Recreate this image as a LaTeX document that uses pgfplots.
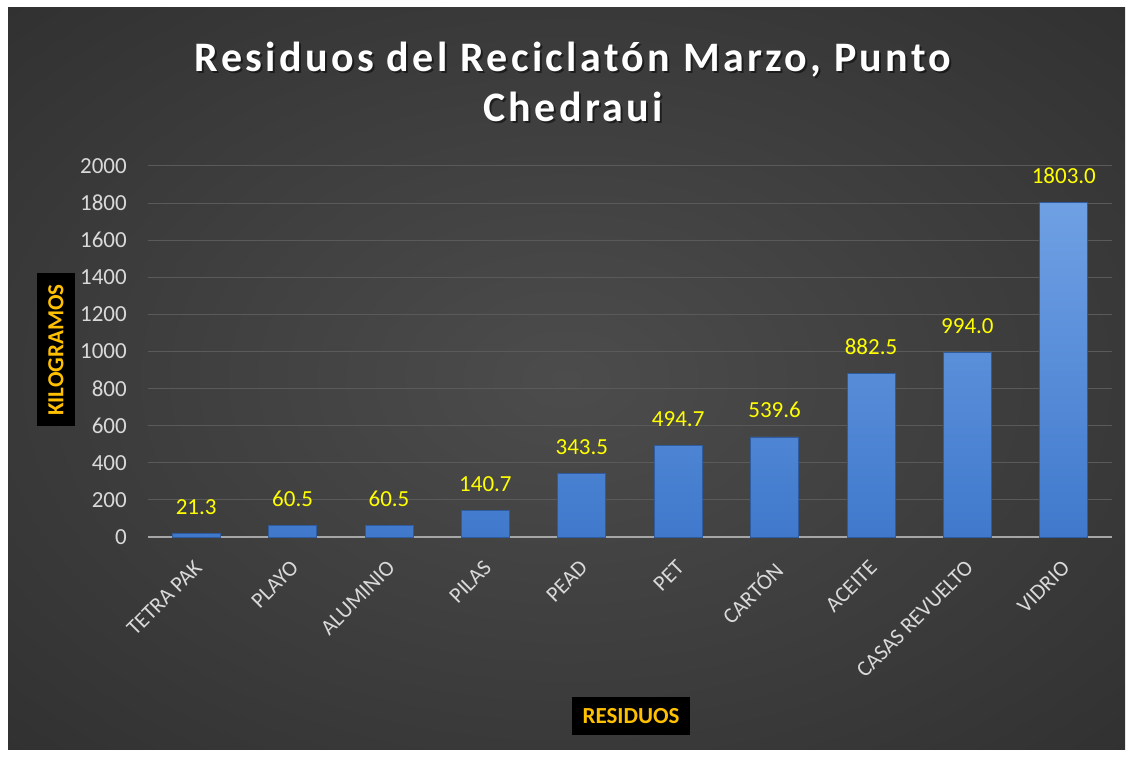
\documentclass[border=0pt]{standalone}
\usepackage{pgfplots}
\pgfplotsset{compat=1.18}
\usepackage{fontspec}
\setmainfont{Carlito}
\newfontfamily\titlefont[LetterSpace=8]{Carlito}
\definecolor{bgin}{HTML}{4C4C4C}
\definecolor{bgout}{HTML}{262626}
\definecolor{ticktext}{HTML}{D9D9D9}
\definecolor{gridc}{HTML}{5A5A5A}
\definecolor{axisc}{HTML}{A6A6A6}
\definecolor{bartop}{HTML}{6FA0E4}
\definecolor{barbot}{HTML}{4079CC}
\definecolor{baredge}{HTML}{2F5C9E}
\definecolor{gold}{HTML}{FFC000}
\definecolor{lab}{HTML}{FFFF00}
\pgfdeclareradialshading{bgshade}{\pgfpoint{0bp}{0bp}}{color(0bp)=(bgin); color(50bp)=(bgout)}
\begin{document}
\begin{tikzpicture}[x=1pt,y=1pt]
\useasboundingbox (0,0) rectangle (1133,758);
\fill[white] (0,0) rectangle (1133,758);
\shade[shading=bgshade] (8,8) rectangle (1125,750);
\begin{axis}[
  at={(148pt,221pt)}, anchor=south west,
  scale only axis, width=964pt, height=371pt,
  xmin=-0.5, xmax=9.5, ymin=0, ymax=2000,
  ytick={0,200,...,2000},
  xtick={0,...,9},
  xticklabels={TETRA PAK,PLAYO,ALUMINIO,PILAS,PEAD,PET,CARTÓN,ACEITE,CASAS REVUELTO,VIDRIO},
  axis x line*=bottom, axis y line*=left,
  y axis line style={draw=none},
  x axis line style={draw=axisc, line width=2pt, -},
  major tick length=0pt,
  ymajorgrids, grid style={draw=gridc, line width=1pt},
  /pgf/number format/assume math mode=true,
  /pgf/number format/1000 sep={},
  yticklabel style={text=ticktext, font=\fontsize{23}{26}\selectfont, anchor=east, inner sep=0pt, xshift=-21pt},
  xticklabel style={xshift=-3pt, yshift=-22pt, text=ticktext, font=\fontsize{22}{26}\selectfont, rotate=45, anchor=north east, inner sep=0pt},
  ybar, bar width=48pt,
  nodes near coords={\pgfmathprintnumber[fixed,fixed zerofill,precision=1,assume math mode=true]{\pgfplotspointmeta}},
  every node near coord/.append style={text=lab, font=\fontsize{23}{26}\selectfont, yshift=15pt},
  clip=false,
]
\addplot[draw=baredge, line width=0.8pt, bar shift=0pt, top color=bartop, bottom color=barbot] coordinates {
 (0,21.3) (1,60.5) (2,60.5) (3,140.7) (4,343.5) (5,494.7) (6,539.6) (7,882.5) (8,994.0) (9,1803.0)};
\end{axis}
\node[font=\titlefont\bfseries\fontsize{42}{50}\selectfont, text=black, opacity=0.5, align=center] at (575,674) {Residuos del Reciclatón Marzo, Punto\\Chedraui};
\node[font=\titlefont\bfseries\fontsize{42}{50}\selectfont, text=white, align=center] at (573,676) {Residuos del Reciclatón Marzo, Punto\\Chedraui};
\node[fill=black, rotate=90, minimum width=153pt, minimum height=38pt, inner sep=0pt, text=gold, font=\bfseries\fontsize{23}{26}\selectfont] at (56,408) {KILOGRAMOS};
\node[fill=black, minimum width=118pt, minimum height=38pt, inner sep=0pt, text=gold, font=\bfseries\fontsize{23}{26}\selectfont] at (631,42) {RESIDUOS};
\end{tikzpicture}
\end{document}
